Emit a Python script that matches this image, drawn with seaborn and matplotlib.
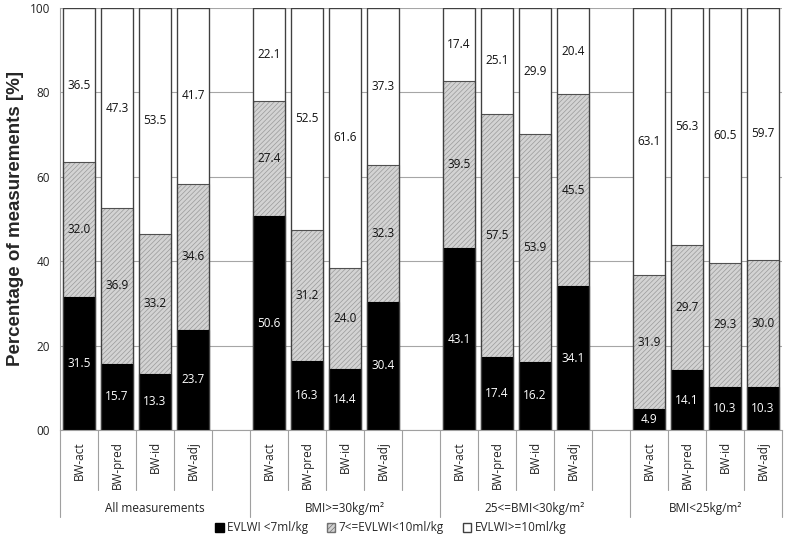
import matplotlib
matplotlib.use("Agg")
import matplotlib.pyplot as plt
import matplotlib.transforms as mtransforms
from matplotlib.patches import Patch
import seaborn as sns
import pandas as pd

# ---------------- data ----------------
groups = ["All measurements", "BMI>=30kg/m²", "25<=BMI<30kg/m²", "BMI<25kg/m²"]
methods = ["BW-act", "BW-pred", "BW-id", "BW-adj"]
low = [31.5, 15.7, 13.3, 23.7, 50.6, 16.3, 14.4, 30.4,
       43.1, 17.4, 16.2, 34.1, 4.9, 14.1, 10.3, 10.3]
mid = [32.0, 36.9, 33.2, 34.6, 27.4, 31.2, 24.0, 32.3,
       39.5, 57.5, 53.9, 45.5, 31.9, 29.7, 29.3, 30.0]
high = [36.5, 47.3, 53.5, 41.7, 22.1, 52.5, 61.6, 37.3,
        17.4, 25.1, 29.9, 20.4, 63.1, 56.3, 60.5, 59.7]
series_labels = ["EVLWI <7ml/kg", "7<=EVLWI<10ml/kg", "EVLWI>=10ml/kg"]
yticks = [0, 20, 40, 60, 80, 100]
ytick_labels = ["00", "20", "40", "60", "80", "100"]
ylabel = "Percentage of measurements [%]"

# ---------------- table ----------------
rows = []
i = 0
for g in groups:
    for m in methods:
        rows.append({"key": f"{g}|{m}", "group": g, "method": m,
                     "low": low[i], "mid": mid[i], "high": high[i]})
        i += 1
df = pd.DataFrame(rows)
df["cum2"] = df["low"] + df["mid"]
df["total"] = df["cum2"] + df["high"]

order = []
for gi, g in enumerate(groups):
    for m in methods:
        order.append(f"{g}|{m}")
    if gi < len(groups) - 1:
        order.append(f"gap{gi}")

# ---------------- style ----------------
sns.set_style("white")
plt.rcParams["font.family"] = ["Open Sans", "DejaVu Sans"]
plt.rcParams["hatch.linewidth"] = 0.5

fig = plt.figure(figsize=(7.86, 5.47), dpi=100)
ax = fig.add_axes([60 / 786, 1 - 430 / 547, 722 / 786, 422 / 547])

W = 0.82
HATCH = "///////"
HATCH_COL = "#9a9a9a"
MID_FILL = "#d3d3d3"
EDGE = "#404040"
common = dict(data=df, x="key", order=order, errorbar=None, width=W, ax=ax)
sns.barplot(y="total", color="white", edgecolor=EDGE, linewidth=0.8,
            saturation=1, zorder=2, **common)
sns.barplot(y="cum2", color=MID_FILL, edgecolor=HATCH_COL, linewidth=0,
            hatch=HATCH, saturation=1, zorder=3, **common)
sns.barplot(y="cum2", fill=False, color="#505050", linewidth=0.8,
            zorder=3.5, **common)
sns.barplot(y="low", color="black", edgecolor="black", linewidth=0.8,
            saturation=1, zorder=4, **common)
sns.barplot(y="total", fill=False, color=EDGE, linewidth=0.9,
            zorder=5, **common)

# value labels
pos = {k: j for j, k in enumerate(order)}
for _, r in df.iterrows():
    x = pos[r["key"]]
    ax.text(x, r["low"] / 2, f"{r['low']:.1f}", ha="center", va="center",
            color="white", fontsize=8.5, zorder=6)
    ax.text(x, r["low"] + r["mid"] / 2, f"{r['mid']:.1f}", ha="center",
            va="center", color="#111111", fontsize=8.5, zorder=6)
    ax.text(x, r["cum2"] + r["high"] / 2, f"{r['high']:.1f}", ha="center",
            va="center", color="#111111", fontsize=8.5, zorder=6)

# axes
ax.set_xlim(-0.5, len(order) - 0.5)
ax.set_ylim(0, 100)
ax.set_yticks(yticks)
ax.set_yticklabels(ytick_labels, fontsize=8.5, color="#222222")
ax.yaxis.grid(True, color="#a6a6a6", linewidth=0.8)
ax.set_axisbelow(True)
for s in ["top", "right"]:
    ax.spines[s].set_visible(False)
for s in ["left", "bottom"]:
    ax.spines[s].set_color("#a0a0a0")
    ax.spines[s].set_linewidth(0.8)
ax.tick_params(axis="y", length=4, color="#a0a0a0", pad=3)

xt = [pos[k] for k in df["key"]]
ax.set_xticks(xt)
ax.set_xticklabels(df["method"], rotation=90, fontsize=8.5, color="#222222")
ax.tick_params(axis="x", length=0, pad=8)
ax.set_xlabel("")
ax.set_ylabel("")

# separators below the axis
trans = mtransforms.blended_transform_factory(ax.transData, ax.transAxes)
bounds = [-0.5]
for gi in range(len(groups)):
    bounds.append(bounds[-1] + (5 if gi < len(groups) - 1 else 4))
for j in range(len(order) + 1):
    xb = j - 0.5
    long_line = any(abs(xb - b) < 1e-9 for b in bounds)
    y2 = -0.206 if long_line else -0.142
    ax.plot([xb, xb], [0, y2], transform=trans, color="#a0a0a0",
            linewidth=0.8, clip_on=False)

for gi, g in enumerate(groups):
    cx = (bounds[gi] + bounds[gi + 1]) / 2
    ax.text(cx, -0.185, g, transform=trans, ha="center", va="center",
            fontsize=8.5, color="#222222")

fig.text(16 / 786, 1 - 219 / 547, ylabel, rotation=90, ha="center",
         va="center", fontsize=13.5, fontweight="bold",
         family=["Liberation Sans", "DejaVu Sans"])

handles = [Patch(facecolor="black", edgecolor="black"),
           Patch(facecolor=MID_FILL, edgecolor="#707070", hatch=HATCH),
           Patch(facecolor="white", edgecolor=EDGE)]
fig.legend(handles, series_labels, loc="center",
           bbox_to_anchor=(391 / 786, 1 - 528 / 547), ncol=3, frameon=False,
           fontsize=8.5, handlelength=0.7, handleheight=0.7,
           handletextpad=0.3, columnspacing=1.6)

fig.savefig("out.png", dpi=100)
